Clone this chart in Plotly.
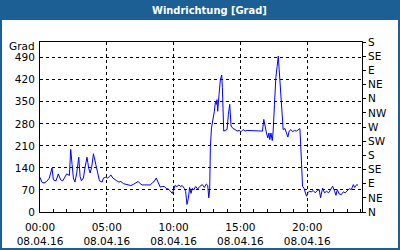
import plotly.graph_objects as go

DATE = "2016-04-08"
times = [
    "00:00","00:08","00:18","00:30","00:42","00:51","00:54","01:00","01:12","01:22",
    "01:33","01:42","01:52","02:00","02:12","02:18","02:24","02:30","02:37","02:45",
    "02:54","03:00","03:06","03:15","03:22","03:31","03:39","03:45","03:52","04:00",
    "04:04","04:12","04:18","04:27","04:39","04:45","04:54","05:03","05:12","05:18",
    "05:27","05:36","05:45","05:54","06:03","06:15","06:27","06:36","06:48","07:00",
    "07:12","07:21","07:30","07:39","07:51","08:03","08:15","08:24","08:33","08:42",
    "08:51","09:00","09:09","09:18","09:27","09:36","09:45","09:54","10:00","10:06",
    "10:15","10:24","10:30","10:39","10:48","10:54","11:00","11:06","11:12","11:18",
    "11:24","11:30","11:39","11:48","11:57","12:09","12:18","12:27","12:33","12:38",
    "12:42","12:45","12:50","12:57","13:03","13:08","13:12","13:15","13:18","13:24",
    "13:30","13:36","13:39","13:45","13:51","14:00","14:06","14:12","14:18","14:27",
    "14:36","14:45","14:54","15:03","15:12","15:21","15:30","15:39","15:57","16:12",
    "16:27","16:39","16:45","16:51","16:57","17:03","17:08","17:12","17:17","17:23",
    "17:27","17:33","17:39","17:45","17:50","17:54","18:00","18:06","18:12","18:20",
    "18:27","18:33","18:39","18:47","18:54","19:03","19:12","19:20","19:27","19:30",
    "19:35","19:39","19:45","19:51","19:57","20:03","20:09","20:18","20:27","20:36",
    "20:45","20:54","21:00","21:09","21:18","21:27","21:36","21:45","21:54","22:03",
    "22:09","22:15","22:24","22:33","22:42","22:51","23:00","23:09","23:18","23:27",
    "23:33","23:42","23:48",
]
direction = [
    110, 95, 92, 97, 108, 129, 140, 102, 99, 121,
    102, 99, 113, 121, 116, 199, 151, 108, 95, 124,
    174, 113, 99, 108, 140, 174, 138, 124, 142, 185,
    172, 145, 118, 99, 95, 108, 110, 108, 112, 118,
    108, 102, 99, 95, 97, 90, 88, 86, 84, 88,
    92, 97, 90, 86, 86, 86, 86, 92, 97, 108,
    95, 79, 81, 81, 75, 73, 67, 59, 70, 84,
    81, 86, 81, 84, 75, 65, 24, 43, 78, 59,
    75, 70, 81, 73, 81, 87, 78, 89, 85, 45,
    71, 204, 267, 291, 320, 352, 342, 357, 320, 373,
    421, 435, 395, 257, 259, 262, 310, 342, 273, 265,
    262, 257, 259, 255, 262, 257, 259, 259, 257, 257,
    257, 257, 294, 267, 251, 235, 251, 230, 251, 227,
    257, 342, 426, 463, 495, 453, 384, 310, 262, 265,
    251, 238, 257, 262, 255, 259, 257, 262, 265, 225,
    140, 82, 76, 61, 50, 61, 66, 64, 68, 61,
    68, 71, 45, 76, 61, 66, 61, 71, 82, 66,
    53, 71, 57, 55, 64, 61, 68, 74, 71, 87,
    78, 87, 85,
]
left_ticks = [0, 70, 140, 210, 280, 350, 420, 490]
right_ticks = [0, 45, 90, 135, 180, 225, 270, 315, 360, 405, 450, 495, 540]
right_labels = ["N", "NE", "E", "SE", "S", "SW", "W", "NW", "N", "NE", "E", "SE", "S"]
title_text = "Windrichtung [Grad]"
unit_text = "Grad"

x = [f"{DATE} {t}" for t in times]
x_range = [f"{DATE} 00:00", "2016-04-09 00:06"]
y_range = [0, 540]

W, H = 400, 250
L, R, T, B = 40, 38, 42, 38
pw, ph = W - L - R, H - T - B
def px(X):
    return (X - L) / pw
def py(Y):
    return (H - B - Y) / ph

FONT = "DejaVu Sans"
BLUE = "#1c5f95"

fig = go.Figure()
fig.add_trace(go.Scatter(x=x, y=direction, mode="lines",
                         line=dict(color="#0000ff", width=1),
                         showlegend=False, hoverinfo="skip"))
fig.add_trace(go.Scatter(x=[x[0]], y=[0], xaxis="x2", yaxis="y2", mode="lines",
                         line=dict(width=0), showlegend=False, hoverinfo="skip"))

fig.update_layout(
    width=W, height=H,
    margin=dict(l=L, r=R, t=T, b=B, pad=0, autoexpand=False),
    paper_bgcolor="white", plot_bgcolor="white",
    font=dict(family=FONT, size=10.5, color="black"),
    xaxis=dict(
        type="date", range=x_range, automargin=False,
        tick0=f"{DATE} 00:00", dtick=5 * 3600000,
        tickformat="%H:%M",
        ticks="inside", ticklen=3, tickcolor="black",
        showgrid=True, gridcolor="black", griddash="3px,3px", gridwidth=1,
        showline=True, linecolor="black", linewidth=1, mirror=True,
        zeroline=False, ticklabelstandoff=5,
        minor=dict(dtick=3600000, tick0=f"{DATE} 00:00", ticks="inside",
                   ticklen=3, tickcolor="black", showgrid=False),
    ),
    xaxis2=dict(
        type="date", range=x_range, overlaying="x", side="bottom", anchor="y",
        automargin=False,
        tick0=f"{DATE} 00:00", dtick=5 * 3600000,
        tickformat="%d.%m.%y", ticks="", showgrid=False, showline=False,
        zeroline=False, ticklabelstandoff=21,
    ),
    yaxis=dict(
        range=y_range, tickmode="array", tickvals=left_ticks, automargin=False,
        ticktext=[str(v) for v in left_ticks],
        ticks="", showgrid=True, gridcolor="black", griddash="3px,3px", gridwidth=1,
        showline=True, linecolor="black", linewidth=1, mirror=False,
        zeroline=False, ticklabelstandoff=2,
    ),
    yaxis2=dict(
        range=y_range, overlaying="y", side="right", anchor="x", automargin=False,
        tickmode="array", tickvals=right_ticks, ticktext=right_labels,
        ticks="outside", ticklen=3, tickcolor="black",
        showgrid=False, showline=True, linecolor="black", linewidth=1,
        zeroline=False, ticklabelstandoff=0,
    ),
)

shapes = [
    dict(type="rect", xref="paper", yref="paper",
         x0=px(0), x1=px(W), y0=py(20), y1=py(0),
         fillcolor=BLUE, line=dict(width=0), layer="above"),
    dict(type="rect", xref="paper", yref="paper",
         x0=px(1), x1=px(W - 1), y0=py(H - 1), y1=py(1),
         fillcolor="rgba(0,0,0,0)", line=dict(color=BLUE, width=2), layer="above"),
]
fig.update_layout(shapes=shapes)

fig.add_annotation(text=f"<b>{title_text}</b>", xref="paper", yref="paper",
                   x=px(209), y=py(10.5), xanchor="center", yanchor="middle",
                   showarrow=False,
                   font=dict(family="DejaVu Sans Condensed", size=11, color="white"))
fig.add_annotation(text=unit_text, xref="paper", yref="paper",
                   x=px(37), y=py(46), xanchor="right", yanchor="middle",
                   showarrow=False, font=dict(family=FONT, size=10.5, color="black"))

fig.write_html("out.html")
